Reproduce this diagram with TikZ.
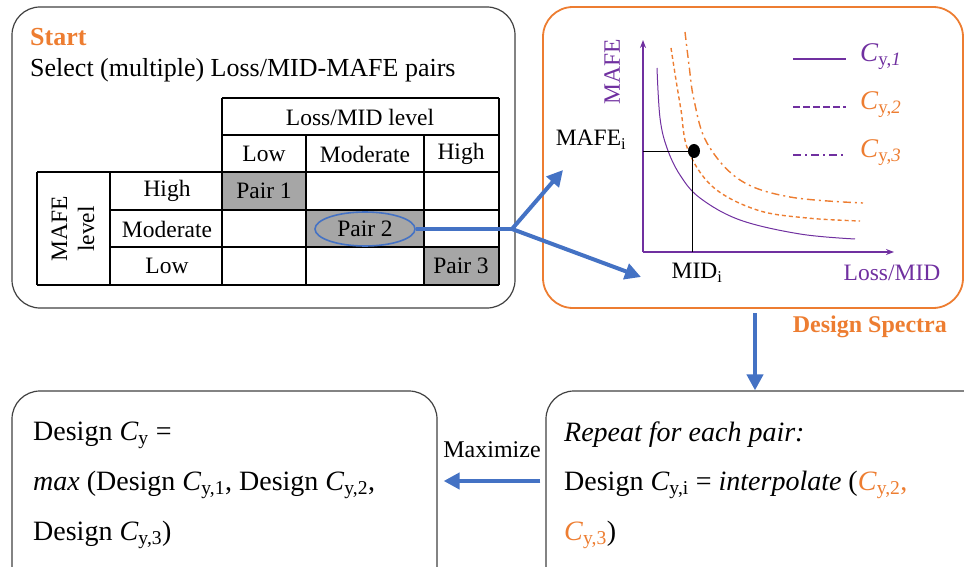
\documentclass[tikz,border=0pt]{standalone}
\usepackage{fontspec}
\setmainfont{Liberation Serif}
\usetikzlibrary{arrows.meta,shapes.geometric}
\definecolor{myorange}{HTML}{ED7D31}
\definecolor{myblue}{HTML}{4472C4}
\definecolor{mypurple}{HTML}{7030A0}
\definecolor{mygray}{HTML}{A6A6A6}
\definecolor{myborder}{HTML}{404040}
\tikzset{
  panel/.style={draw=myborder, line width=1.2pt, rounded corners=28pt, inner sep=0pt},
  opanel/.style={draw=myorange, line width=1.8pt, rounded corners=30pt, inner sep=0pt},
  tline/.style={black, line width=1.1pt},
  grayfill/.style={fill=mygray},
  bluearrow/.style={draw=myblue, line width=4pt, -{Triangle[length=16pt,width=16pt]}},
  blueline/.style={draw=myblue, line width=4pt},
  txt/.style={inner sep=0pt, font=\fontsize{23.5}{27}\selectfont},
  btxt/.style={inner sep=0pt, anchor=west, font=\fontsize{28}{32}\selectfont},
  legtxt/.style={inner sep=0pt, anchor=west, font=\fontsize{27}{30}\selectfont},
}
\begin{document}
\begin{tikzpicture}[x=1pt,y=-1pt]
\useasboundingbox (0,0) rectangle (964,567);
\clip (0,0) rectangle (964,567);

% ---------- Start panel ----------
\node[panel, minimum width=503pt, minimum height=301pt] (startbox) at (263.5,157.5) {};
\node[inner sep=0pt, anchor=west, text=myorange, font=\fontsize{26}{30}\selectfont\bfseries] (start) at (30,37) {Start};
\node[inner sep=0pt, anchor=west, font=\fontsize{26}{30}\selectfont] (select) at (30,70) {Select (multiple) Loss/MID-MAFE pairs};

% gray cells
\fill[grayfill] (222,172) rectangle (306,210);
\fill[grayfill] (306,210) rectangle (424,247);
\fill[grayfill] (424,247) rectangle (499,285);

% table lines
\draw[tline] (222,98) -- (499,98);
\draw[tline] (222,135) -- (499,135);
\draw[tline] (37,172) -- (499,172);
\draw[tline] (110,210) -- (499,210);
\draw[tline] (110,247) -- (499,247);
\draw[tline] (37,285) -- (499,285);
\draw[tline] (37,172) -- (37,285);
\draw[tline] (110,172) -- (110,285);
\draw[tline] (222,98) -- (222,285);
\draw[tline] (306,135) -- (306,285);
\draw[tline] (424,135) -- (424,285);
\draw[tline] (499,98) -- (499,285);

% table text
\node[txt] (lmlevel) at (360,117) {Loss/MID level};
\node[txt] (clow) at (264,154) {Low};
\node[txt] (cmod) at (365,154) {Moderate};
\node[txt] (chigh) at (461,154) {High};
\node[txt] (rhigh) at (167,191) {High};
\node[txt] (rmod) at (167,229) {Moderate};
\node[txt] (rlow) at (167,266) {Low};
\node[txt, rotate=90, align=center] (mafelevel) at (73,229) {MAFE\\level};
\node[txt] (pair1) at (264,191) {Pair 1};
\node[txt] (pair3) at (461,266) {Pair 3};
\node[txt, ellipse, draw=myblue, line width=1.6pt, minimum width=100pt, minimum height=34pt, inner sep=0pt] (pair2) at (365,229) {Pair 2};

% ---------- Design spectra panel ----------
\node[opanel, minimum width=420pt, minimum height=301pt] (specbox) at (753,157.5) {};
\node[inner sep=0pt, anchor=east, text=myorange, font=\fontsize{24}{28}\selectfont\bfseries] (dspec) at (947,327) {Design Spectra};

% axes
\coordinate (origin) at (643,252);
\coordinate (ytop) at (643,40);
\coordinate (xend) at (894,252);
\draw[mypurple, line width=1.8pt, -{Stealth[length=8pt,width=6pt]}] (origin) -- (ytop);
\draw[mypurple, line width=1.8pt, -{Stealth[length=8pt,width=6pt]}] (origin) -- (xend);
\node[txt, rotate=90, text=mypurple] (mafeax) at (612,72) {MAFE};
\node[txt, text=mypurple] (lossax) at (892,273) {Loss/MID};
\node[txt] (mafei) at (591,140) {MAFE\textsubscript{i}};
\node[txt] (midi) at (697,273) {MID\textsubscript{i}};

% curves
\draw[mypurple, line width=1pt] plot[smooth, tension=0.6] coordinates {(657,68) (660,118) (667,148) (680,175) (700,198) (740,220) (800,234) (855,239)};
\draw[myorange, line width=1.4pt, dash pattern=on 4pt off 3pt] plot[smooth, tension=0.6] coordinates {(671,48) (676,80) (681,110) (688,150) (713,187) (757,210) (807,218) (860,221)};
\draw[myorange, line width=1.4pt, dash pattern=on 8pt off 4pt on 2pt off 4pt] plot[smooth, tension=0.6] coordinates {(685,32) (689,65) (694,100) (707,143) (740,180) (790,197) (863,203)};

% point and guide lines
\coordinate (pt) at (692,152);
\draw[black, line width=1pt] (origin |- pt) -- (pt) -- (pt |- origin);
\fill[black] (694,151) ellipse (6pt and 7pt);

% legend
\draw[mypurple, line width=1.2pt] (793,59) -- (846,59);
\draw[mypurple, line width=2.6pt, dash pattern=on 7pt off 3pt] (793,107) -- (846,107);
\draw[mypurple, line width=1.2pt, dash pattern=on 8pt off 4pt on 2pt off 4pt] (793,155) -- (846,155);
\node[legtxt, text=mypurple] (leg1) at (860,57) {\textit{C}\textsubscript{y,\textit{1}}};
\node[legtxt, text=myorange] (leg2) at (860,105) {\textit{C}\textsubscript{y,\textit{2}}};
\node[legtxt, text=myorange] (leg3) at (860,153) {\textit{C}\textsubscript{y,\textit{3}}};

% ---------- connectors from Pair 2 ----------
\coordinate (junc) at (512,229);
\coordinate (tomafe) at (563,170);
\coordinate (tomid) at (641,277);
\draw[blueline] (pair2.east) -- (junc);
\draw[bluearrow] (junc) -- (tomafe);
\draw[bluearrow] (junc) -- (tomid);

% ---------- bottom panels ----------
\node[panel, minimum width=425pt, minimum height=210pt] (maxbox) at (224.5,496) {};
\node[panel, minimum width=444pt, minimum height=210pt] (repbox) at (768,496) {};

\node[btxt] (l1) at (33,435) {Design \textit{C}\textsubscript{y} =};
\node[btxt] (l2) at (33,485) {\textit{max} (Design \textit{C}\textsubscript{y,1}, Design \textit{C}\textsubscript{y,2},};
\node[btxt] (l3) at (33,535) {Design \textit{C}\textsubscript{y,3})};

\node[btxt] (r1) at (564,435) {\textit{Repeat for each pair:}};
\node[btxt] (r2) at (564,485) {Design \textit{C}\textsubscript{y,i} = \textit{interpolate} ({\color{myorange}\textit{C}\textsubscript{y,2},}};
\node[btxt] (r3) at (564,535) {{\color{myorange}\textit{C}\textsubscript{y,3}})};

% down arrow and maximize arrow
\coordinate (downstart) at (755,313);
\draw[bluearrow] (downstart) -- (repbox.north -| downstart);
\node[inner sep=0pt, font=\fontsize{24}{28}\selectfont] (maxlbl) at (492,450) {Maximize};
\draw[bluearrow] ([xshift=-5pt]repbox.west |- 0,481) -- ([xshift=6pt]maxbox.east |- 0,481);

\end{tikzpicture}
\end{document}
